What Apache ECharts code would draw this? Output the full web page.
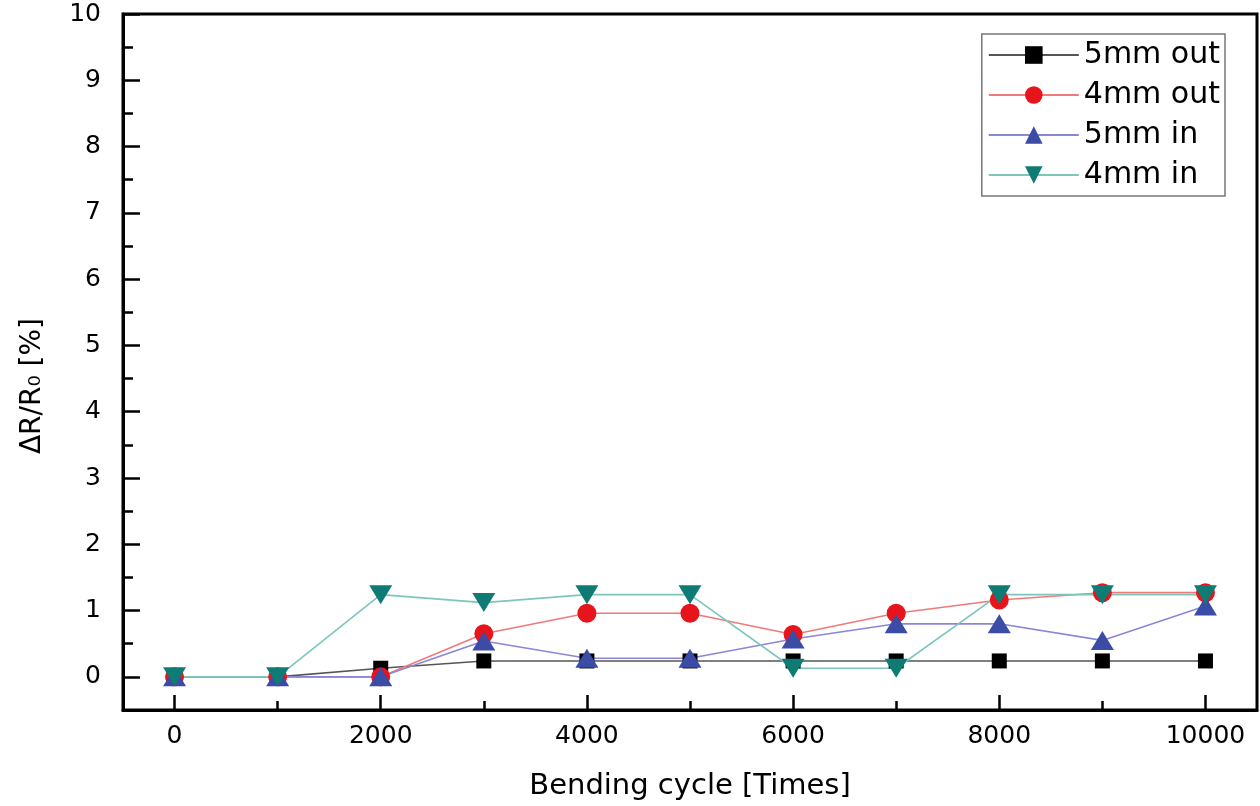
<!DOCTYPE html>
<html>
<head>
<meta charset="utf-8">
<script src="https://cdn.jsdelivr.net/npm/echarts@6/dist/echarts.min.js"></script>
<style>html,body{margin:0;padding:0;background:#fff}#c{width:1260px;height:806px}</style>
</head>
<body>
<div id="c"></div>
<script>
var cycles = [0, 1000, 2000, 3000, 4000, 5000, 6000, 7000, 8000, 9000, 10000];
var out5mm = [0, 0, 0.13, 0.24, 0.24, 0.24, 0.24, 0.24, 0.24, 0.24, 0.24];
var out4mm = [0, 0, 0, 0.65, 0.96, 0.96, 0.64, 0.96, 1.16, 1.27, 1.27];
var in5mm  = [0, 0, 0, 0.54, 0.28, 0.28, 0.57, 0.8, 0.8, 0.55, 1.07];
var in4mm  = [0, 0, 1.24, 1.12, 1.24, 1.24, 0.13, 0.13, 1.24, 1.24, 1.24];
var seriesNames = ['5mm out', '4mm out', '5mm in', '4mm in'];
var xMajorTicks = [0, 2000, 4000, 6000, 8000, 10000];
var xMinorTicks = [1000, 3000, 5000, 7000, 9000];
var yMajorTicks = [0, 1, 2, 3, 4, 5, 6, 7, 8, 9, 10];
var yMinorTicks = [0.5, 1.5, 2.5, 3.5, 4.5, 5.5, 6.5, 7.5, 8.5, 9.5];

function pairs(vals) { return cycles.map(function (c, i) { return [c, vals[i]]; }); }

var FONT = 'DejaVu Sans';
var chart = echarts.init(document.getElementById('c'));
chart.setOption({
  animation: false,
  backgroundColor: '#fff',
  grid: { left: 123, right: 3, top: 14, bottom: 96, show: true, borderColor: '#000', borderWidth: 3, backgroundColor: 'transparent' },
  legend: {
    orient: 'vertical', right: 35, top: 34,
    data: seriesNames,
    itemWidth: 90, itemHeight: 22, itemGap: 10,
    padding: [6, 5, 6, 6],
    borderColor: '#777', borderWidth: 1.5,
    textStyle: { fontFamily: FONT, fontSize: 30, color: '#000' }
  },
  xAxis: [{
    type: 'value', min: -500, max: 10500,
    name: 'Bending cycle [Times]', nameLocation: 'middle', nameGap: 62,
    nameTextStyle: { fontFamily: FONT, fontSize: 29, color: '#000' },
    axisLine: { show: true, onZero: false, lineStyle: { color: '#000', width: 3 } },
    axisTick: { show: true, inside: true, length: 15, customValues: xMajorTicks, lineStyle: { color: '#000', width: 2.5 } },
    axisLabel: { customValues: xMajorTicks, margin: 14, fontFamily: FONT, fontSize: 25, color: '#000', formatter: function (v) { return String(v); } },
    splitLine: { show: false }
  }, {
    type: 'value', min: -500, max: 10500, position: 'bottom',
    axisLine: { show: false, onZero: false },
    axisTick: { show: true, inside: true, length: 9, customValues: xMinorTicks, lineStyle: { color: '#000', width: 2.5 } },
    axisLabel: { show: false },
    splitLine: { show: false }
  }],
  yAxis: [{
    type: 'value', min: -0.5, max: 10,
    name: 'ΔR/R₀ [%]', nameLocation: 'middle', nameRotate: 90, nameGap: 76,
    nameTextStyle: { fontFamily: FONT, fontSize: 28, color: '#000', padding: [0, 48, 0, 0] },
    axisLine: { show: true, onZero: false, lineStyle: { color: '#000', width: 3 } },
    axisTick: { show: true, inside: true, length: 17, customValues: yMajorTicks, lineStyle: { color: '#000', width: 2.5 } },
    axisLabel: { customValues: yMajorTicks, margin: 22, fontFamily: FONT, fontSize: 25, color: '#000' },
    splitLine: { show: false }
  }, {
    type: 'value', min: -0.5, max: 10, position: 'left',
    axisLine: { show: false, onZero: false },
    axisTick: { show: true, inside: true, length: 10, customValues: yMinorTicks, lineStyle: { color: '#000', width: 2.5 } },
    axisLabel: { show: false },
    splitLine: { show: false }
  }],
  series: [{
    name: seriesNames[0], type: 'line', data: pairs(out5mm),
    symbol: 'rect', symbolSize: 15,
    itemStyle: { color: '#000' }, lineStyle: { color: '#555', width: 1.6 }
  }, {
    name: seriesNames[1], type: 'line', data: pairs(out4mm),
    symbol: 'circle', symbolSize: 19,
    itemStyle: { color: '#e8141c' }, lineStyle: { color: '#f07a7a', width: 1.6 }
  }, {
    name: seriesNames[2], type: 'line', data: pairs(in5mm),
    symbol: 'triangle', symbolSize: [23, 19],
    itemStyle: { color: '#3a4ca6' }, lineStyle: { color: '#8a86d8', width: 1.6 }
  }, {
    name: seriesNames[3], type: 'line', data: pairs(in4mm),
    symbol: 'triangle', symbolRotate: 180, symbolSize: [23, 19],
    itemStyle: { color: '#0e7c74' }, lineStyle: { color: '#7cc6be', width: 1.6 }
  }]
});
</script>
</body>
</html>
